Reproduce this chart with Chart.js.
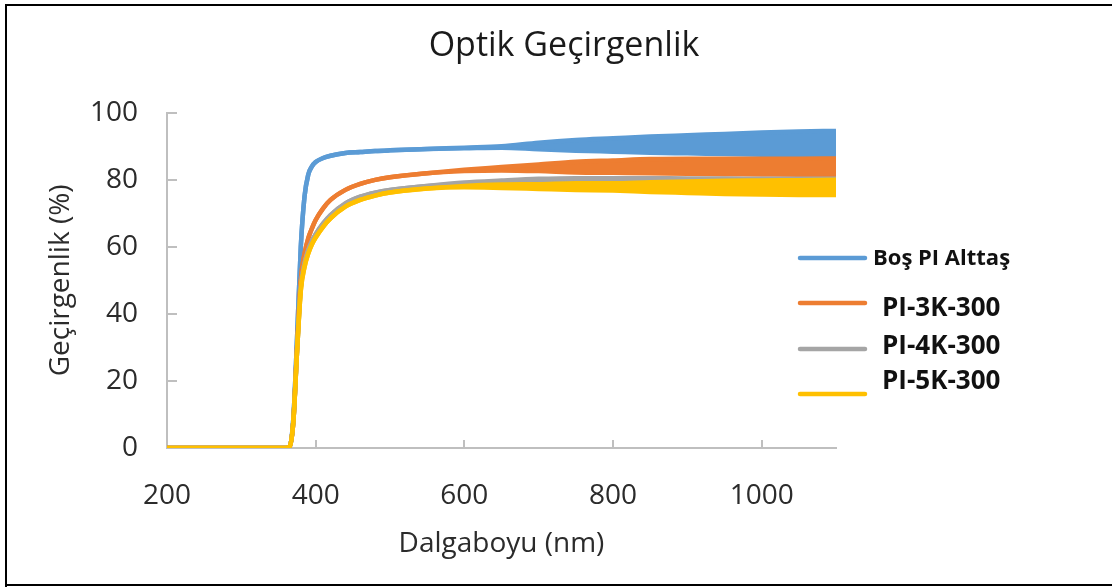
<!DOCTYPE html>
<html><head><meta charset="utf-8">
<script src="https://cdn.jsdelivr.net/npm/chart.js@4.4.1/dist/chart.umd.min.js"></script>
<style>html,body{margin:0;padding:0;background:#fff;}canvas{display:block}</style>
</head><body>
<canvas id="c" width="1112" height="587"></canvas>
<script>
// ---- data ----
const wavelengths = [200,360,365,370,375,380,385,390,395,400,410,420,440,460,480,500,550,600,650,700,750,800,850,900,950,1000,1050,1100];
const seriesNames = ['Boş PI Alttaş','PI-3K-300','PI-4K-300','PI-5K-300'];
// upper / lower edge of each trace (the traces become a noisy band above ~600 nm)
const blueUpper   = [0,0,0.5,9,33,60,75,81.5,84,85.3,86.5,87.2,88,88.3,88.6,88.8,89.2,89.6,90.0,91.1,91.9,92.4,92.9,93.3,93.7,94.1,94.4,94.6];
const blueLower   = [0,0,0.5,9,33,60,75,81.5,84,85.3,86.5,87.2,88,88.3,88.6,88.8,89.2,89.4,89.6,89.1,88.7,88.4,88.1,87.9,87.7,87.5,87.4,87.4];
const orangeUpper = [0,0,0.5,8,30,50,58,62.5,65.5,68,71.5,74,77,78.8,80,80.8,82,83.0,83.8,84.6,85.4,85.8,86.2,86.3,86.3,86.3,86.3,86.4];
const orangeLower = [0,0,0.5,8,30,50,58,62.5,65.5,68,71.5,74,77,78.8,80,80.8,82,82.6,82.8,82.6,82.2,82.1,82.0,81.8,81.7,81.6,81.5,81.3];
const grayUpper   = [0,0,0.5,8,29,48,55,59,61.8,63.8,67,69.5,73,75,76.2,77,78.2,79.2,79.8,80.3,80.5,80.5,80.5,80.4,80.4,80.3,80.3,80.3];
const grayLower   = [0,0,0.5,8,29,48,55,59,61.8,63.8,67,69.5,73,75,76.2,77,78.2,78.6,78.2,77.8,77.4,77.2,77.0,76.9,76.8,76.7,76.6,76.5];
const yellowUpper = [0,0,0.5,8,29,47,54,58,60.8,62.8,66,68.5,72,74,75.3,76.2,77.4,78.2,78.6,78.7,79.0,79.0,79.3,79.5,79.7,79.8,79.9,80.0];
const yellowLower = [0,0,0.5,8,29,47,54,58,60.8,62.8,66,68.5,72,74,75.3,76.2,77.4,77.8,77.6,77.3,77.0,76.8,76.4,76.1,75.8,75.6,75.5,75.5];
const xTicks = [200,400,600,800,1000];
const yTicks = [0,20,40,60,80,100];
const colors = ['#5B9BD5','#ED7D31','#A5A5A5','#FFC000'];

const pts = arr => arr.map((v,i)=>({x:wavelengths[i], y:v}));
const bands = [[blueUpper,blueLower],[orangeUpper,orangeLower],[grayUpper,grayLower],[yellowUpper,yellowLower]];

// yellow drawn on top, blue at the bottom (first dataset is drawn last)
const datasets = [];
for (let s = 3; s >= 0; s--) {
  datasets.push({label: seriesNames[s], data: pts(bands[s][0]), borderColor: colors[s], backgroundColor: colors[s],
    borderWidth: 4.5, pointRadius: 0, fill: '+1', cubicInterpolationMode: 'monotone'});
  datasets.push({label: seriesNames[s] + ' (alt)', data: pts(bands[s][1]), borderColor: colors[s], backgroundColor: colors[s],
    borderWidth: 4.5, pointRadius: 0, fill: false, cubicInterpolationMode: 'monotone'});
}

const TXT = '#2b2b2b';
const AXIS = '#BFBFBF';

const decor = {
  id: 'decor',
  beforeDraw(chart) {
    const c = chart.ctx; c.save(); c.fillStyle = '#fff'; c.fillRect(0,0,chart.width,chart.height); c.restore();
  },
  beforeDatasetsDraw(chart) {
    const c = chart.ctx, xs = chart.scales.x, ys = chart.scales.y, a = chart.chartArea;
    c.save(); c.strokeStyle = AXIS; c.lineWidth = 2;
    xTicks.forEach(v => { if (v === xTicks[0]) return; const px = Math.round(xs.getPixelForValue(v));
      c.beginPath(); c.moveTo(px, a.bottom); c.lineTo(px, a.bottom - 8); c.stroke(); });
    yTicks.forEach(v => { if (v === yTicks[0]) return; const py = Math.round(ys.getPixelForValue(v));
      c.beginPath(); c.moveTo(a.left, py); c.lineTo(a.left + 10, py); c.stroke(); });
    c.restore();
  },
  afterDraw(chart) {
    const c = chart.ctx;
    c.save();
    // outer frame
    c.strokeStyle = '#000'; c.lineWidth = 2;
    c.beginPath(); c.moveTo(6, 600); c.lineTo(6, 5); c.lineTo(1120, 5); c.stroke();
    c.beginPath(); c.moveTo(5, 585); c.lineTo(1120, 585); c.stroke();
    // legend
    const lineY = [258, 303, 349, 394];
    const textX = [873, 882, 882, 882];
    const textY = [259, 309, 347, 382];
    const fonts = ['bold 22px "Open Sans"', 'bold 26px "Open Sans"', 'bold 26px "Open Sans"', 'bold 26px "Open Sans"'];
    for (let s = 0; s < seriesNames.length; s++) {
      c.strokeStyle = colors[s]; c.lineWidth = 4.5; c.lineCap = 'round';
      c.beginPath(); c.moveTo(800, lineY[s]); c.lineTo(865, lineY[s]); c.stroke();
      c.fillStyle = '#111'; c.font = fonts[s]; c.textBaseline = 'middle'; c.textAlign = 'left';
      c.fillText(seriesNames[s], textX[s], textY[s]);
    }
    c.restore();
  }
};

new Chart(document.getElementById('c'), {
  type: 'line',
  data: { datasets },
  plugins: [decor],
  options: {
    responsive: false, animation: false, devicePixelRatio: 1,
    layout: { padding: { left: 16, right: 0, top: 0, bottom: 0 } },
    plugins: {
      legend: { display: false },
      tooltip: { enabled: false },
      title: { display: true, text: 'Optik Geçirgenlik', color: '#1a1a1a',
        font: { family: '"Open Sans"', size: 34, weight: 'normal', lineHeight: 1.2 },
        padding: { top: 26, bottom: 46 } }
    },
    scales: {
      x: { type: 'linear', min: 200, max: 1100,
        afterBuildTicks: s => { s.ticks = xTicks.map(v => ({value: v})); },
        afterFit: s => { s.height = 139; },
        grid: { display: false }, border: { display: true, color: AXIS, width: 2 },
        ticks: { color: TXT, padding: 23, maxRotation: 0, callback: v => String(v),
          font: { family: '"Open Sans"', size: 28 } },
        title: { display: true, text: 'Dalgaboyu (nm)', color: TXT, padding: { top: 0, bottom: 26 },
          font: { family: '"Open Sans"', size: 28, lineHeight: 1.2 } } },
      y: { type: 'linear', min: 0, max: 100,
        afterBuildTicks: s => { s.ticks = yTicks.map(v => ({value: v})); },
        afterFit: s => { s.width = 151; },
        grid: { display: false }, border: { display: true, color: AXIS, width: 2 },
        ticks: { color: TXT, padding: 21, callback: v => String(v),
          font: { family: '"Open Sans"', size: 28 } },
        title: { display: true, text: 'Geçirgenlik (%)', color: TXT, padding: { top: 28, bottom: 0 },
          font: { family: '"Open Sans"', size: 28, lineHeight: 1.2 } } },
      y2: { type: 'linear', position: 'right', display: true,
        afterFit: s => { s.width = 276; },
        grid: { display: false }, border: { display: false }, ticks: { display: false } }
    }
  }
});
</script>
</body></html>
